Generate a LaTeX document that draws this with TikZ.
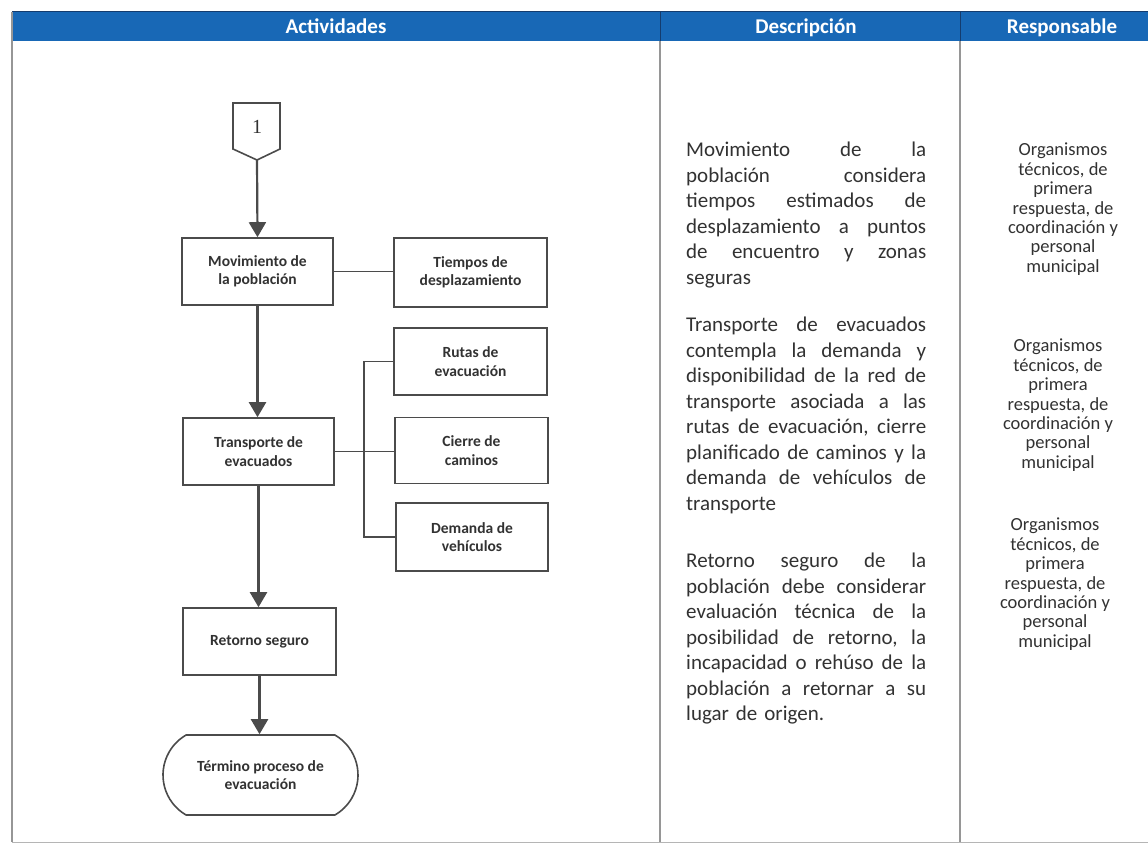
\documentclass[tikz,border=0pt]{standalone}
\usepackage{fontspec}
\setmainfont{Carlito}
\newfontfamily\numfont{Liberation Serif}
\usetikzlibrary{arrows.meta,shapes.misc}
\definecolor{hdrblue}{RGB}{24,104,182}
\definecolor{hdrline}{RGB}{20,60,110}
\definecolor{linegray}{RGB}{75,75,75}
\definecolor{txtgray}{RGB}{50,50,50}
\definecolor{gridgray}{RGB}{150,150,150}
\newcommand\jline[1]{\leavevmode\hbox to 240pt{#1}}
\begin{document}
\begin{tikzpicture}[x=1pt,y=-1pt,
  box/.style={draw=linegray, line width=1.6pt, minimum width=151pt, minimum height=67pt,
    align=center, inner sep=0pt, text=txtgray, font=\fontsize{15.5}{18.5}\selectfont\bfseries},
  arr/.style={draw=linegray, line width=2.2pt, -{Triangle[width=17pt,length=15pt]}},
  link/.style={draw=linegray, line width=1.8pt},
  gridline/.style={draw=gridgray, line width=1.2pt},
  hdr/.style={anchor=base, text=white, font=\fontsize{21}{24}\selectfont\bfseries, inner sep=0pt},
  desc/.style={anchor=north west, inner sep=0pt, text width=240pt, align=left, text=txtgray,
    font=\fontsize{21}{25.5}\selectfont},
  resp/.style={anchor=north, inner sep=0pt, align=center, text=txtgray,
    font=\fontsize{18.5}{19.4}\selectfont}
]
\useasboundingbox (0,0) rectangle (1148,845);
\fill[white] (0,0) rectangle (1148,845);

% table frame
\fill[hdrblue] (12,12) rectangle (1148,41);
\draw[hdrline, line width=1pt] (12,12) -- (1148,12);
\draw[gridline] (12,12) -- (12,842);
\draw[gridline] (660,41) -- (660,842);
\draw[gridline] (960,41) -- (960,842);
\draw[hdrline, line width=1pt] (660,12) -- (660,41);
\draw[hdrline, line width=1pt] (960,12) -- (960,41);
\draw[draw=gridgray!70, line width=1pt] (12,842) -- (1148,842);

\node[hdr] (hA) at (336,34) {Actividades};
\node[hdr] (hD) at (806,34) {Descripción};
\node[hdr] (hR) at (1062,34) {Responsable};

% flowchart
\draw[link, line width=1.6pt, fill=white] (233,103) -- (280,103) -- (280,149) -- (257,160) -- (233,149) -- cycle;
\node[text=txtgray, font=\numfont\fontsize{20}{22}\selectfont] (n1) at (257,127) {1};
\coordinate (c1) at (257,160);

\node[box] (mov) at (257.5,271.5) {Movimiento de\\la población};
\node[box, minimum width=153pt, minimum height=69pt] (tie) at (470.5,272.5) {Tiempos de\\desplazamiento};
\node[box, minimum width=153pt] (rut) at (470.5,361.5) {Rutas de\\evacuación};
\node[box] (tra) at (258.5,451.5) {Transporte de\\evacuados};
\node[box, minimum width=153pt, minimum height=66pt] (cie) at (471.5,450.5) {Cierre de\\caminos};
\node[box, minimum width=152pt, minimum height=68pt] (dem) at (472,537) {Demanda de\\vehículos};
\node[box, minimum width=153pt] (ret) at (259.5,641.5) {Retorno seguro};
\node[box, rounded rectangle, rounded rectangle arc length=120, minimum width=195pt, minimum height=80pt] (ter) at (260.5,775) {Término proceso de\\evacuación};

\coordinate (bx) at (364,0);
\draw[arr] (c1) -- (mov.north);
\draw[arr] (mov.south) -- (mov.south |- tra.north);
\draw[arr] (tra.south) -- (tra.south |- ret.north);
\draw[arr] (ret.south) -- (ret.south |- ter.north);
\draw[link] (mov.east) -- (mov.east -| tie.west);
\draw[link] (tra.east) -- (tra.east -| cie.west);
\draw[link] (rut.west) -- (rut.west -| bx) |- (dem.west);

% descriptions
\node[desc] (d1) at (686,142) {\jline{Movimiento \hfill de \hfill la}\\
\jline{población \hfill considera}\\
\jline{tiempos \hfill estimados \hfill de}\\
\jline{desplazamiento \hfill a \hfill puntos}\\
\jline{de \hfill encuentro \hfill y \hfill zonas}\\
seguras};
\node[desc] (d2) at (686,317) {\jline{Transporte \hfill de \hfill evacuados}\\
\jline{contempla \hfill la \hfill demanda \hfill y}\\
\jline{disponibilidad \hfill de \hfill la \hfill red \hfill de}\\
\jline{transporte \hfill asociada \hfill a \hfill las}\\
\jline{rutas \hfill de \hfill evacuación, \hfill cierre}\\
\jline{planificado \hfill de \hfill caminos \hfill y \hfill la}\\
\jline{demanda \hfill de \hfill vehículos \hfill de}\\
transporte};
\node[desc] (d3) at (686,553) {\jline{Retorno \hfill seguro \hfill de \hfill la}\\
\jline{población \hfill debe \hfill considerar}\\
\jline{evaluación \hfill técnica \hfill de \hfill la}\\
\jline{posibilidad \hfill de \hfill retorno, \hfill la}\\
\jline{incapacidad \hfill o \hfill rehúso \hfill de \hfill la}\\
\jline{población \hfill a \hfill retornar \hfill a \hfill su}\\
lugar de origen.};

% responsables
\node[resp] (r1) at (1063,143) {Organismos\\técnicos, de\\primera\\respuesta, de\\coordinación y\\personal\\municipal};
\node[resp] (r2) at (1058,339) {Organismos\\técnicos, de\\primera\\respuesta, de\\coordinación y\\personal\\municipal};
\node[resp] (r3) at (1055,518) {Organismos\\técnicos, de\\primera\\respuesta, de\\coordinación y\\personal\\municipal};
\end{tikzpicture}
\end{document}
